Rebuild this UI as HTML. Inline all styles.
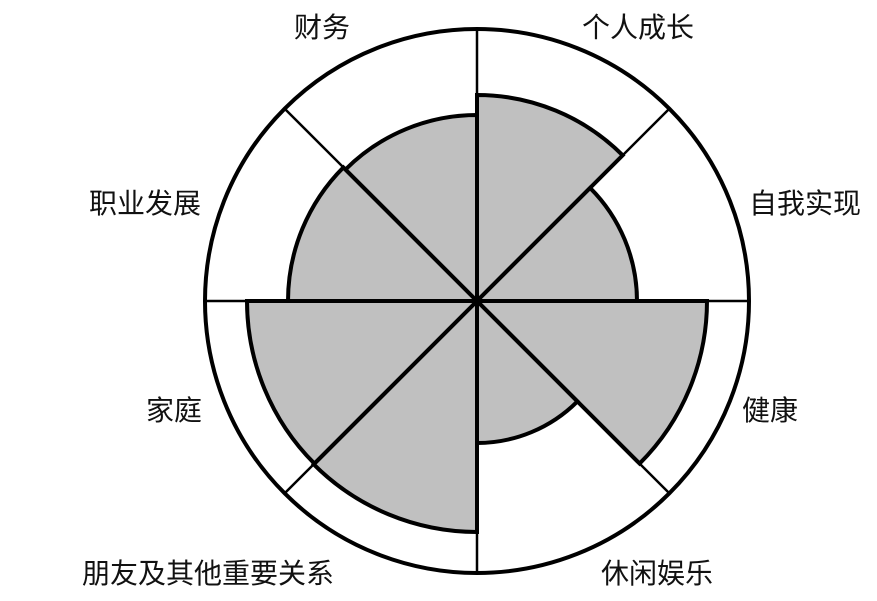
<!DOCTYPE html>
<html><head><meta charset="utf-8"><style>
html,body{margin:0;padding:0;background:#fff;}
svg{display:block;}
text{font-family:"Liberation Sans","Noto Sans CJK SC",sans-serif;font-size:28px;fill:#111;text-anchor:middle;}
</style></head><body>
<svg width="877" height="601" viewBox="0 0 877 601" xmlns="http://www.w3.org/2000/svg">
<rect width="877" height="601" fill="#fff"/>
<g fill="#c0c0c0" stroke="#000" stroke-width="4" stroke-linejoin="miter">
<path d="M477,301 L477,95 A206,206 0 0 1 622.7,155.3 Z"/>
<path d="M477,301 L590.1,187.9 A160,160 0 0 1 637,301 Z"/>
<path d="M477,301 L707,301 A230,230 0 0 1 639.6,463.6 Z"/>
<path d="M477,301 L577.4,401.4 A142,142 0 0 1 477,443 Z"/>
<path d="M477,301 L477,532 A231,231 0 0 1 313.7,464.3 Z"/>
<path d="M477,301 L314.4,463.6 A230,230 0 0 1 247,301 Z"/>
<path d="M477,301 L288,301 A189,189 0 0 1 343.4,167.4 Z"/>
<path d="M477,301 L345.5,169.5 A186,186 0 0 1 477,115 Z"/>
</g>
<circle cx="477" cy="301" r="272" fill="none" stroke="#000" stroke-width="4"/>
<g stroke="#000" stroke-width="2.5">
<line x1="477" y1="29" x2="477" y2="573"/>
<line x1="205" y1="301" x2="749" y2="301"/>
<line x1="284.7" y1="108.7" x2="669.3" y2="493.3"/>
<line x1="669.3" y1="108.7" x2="284.7" y2="493.3"/>
</g>
<text x="322" y="37">财务</text>
<text x="638" y="37">个人成长</text>
<text x="805" y="213">自我实现</text>
<text x="145" y="213">职业发展</text>
<text x="174" y="420">家庭</text>
<text x="770" y="420">健康</text>
<text x="208" y="583">朋友及其他重要关系</text>
<text x="657" y="583">休闲娱乐</text>
</svg>
</body></html>
